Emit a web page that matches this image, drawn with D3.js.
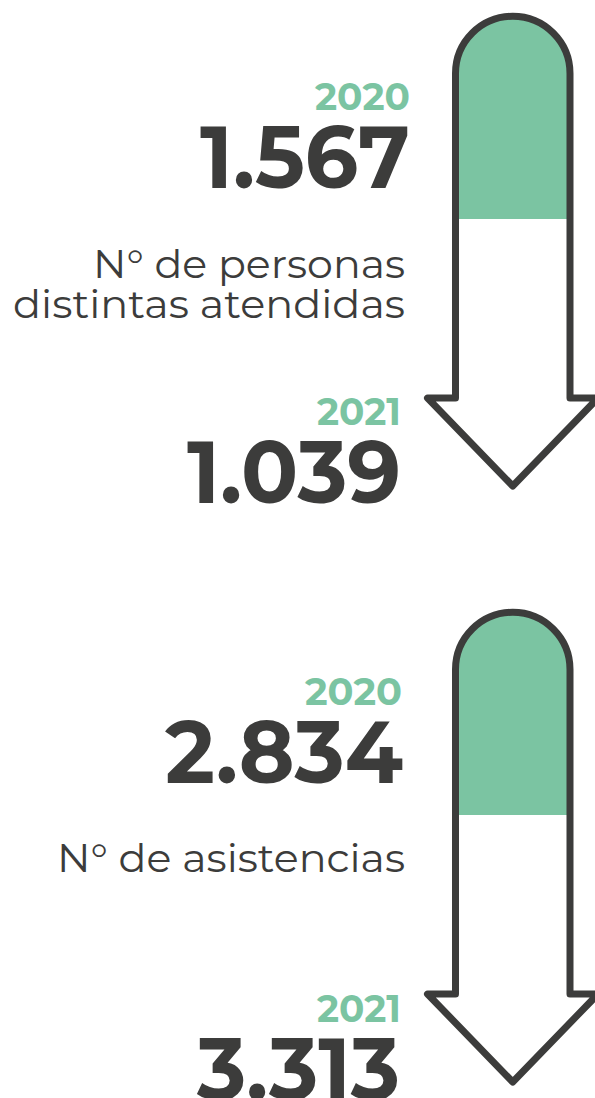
<!DOCTYPE html>
<html>
<head>
<meta charset="utf-8">
<script src="https://cdn.jsdelivr.net/npm/d3@7"></script>
<style>
  html, body { margin: 0; padding: 0; background: #ffffff; }
  svg { display: block; }
</style>
</head>
<body>
<script>
// ---- data ----
const labels = [["N° de personas", "distintas atendidas"], ["N° de asistencias"]];
const years = ["2020", "2021"];
const values2020 = [1567, 2834];
const values2021 = [1039, 3313];

// ---- setup ----
const W = 595, H = 1098;
const DARK = "#3c3c3b", GREEN = "#7bc4a2";
const FONT = "'Montserrat', 'Open Sans', 'DejaVu Sans', sans-serif";
const fmt = d3.formatLocale({ decimal: ",", thousands: ".", grouping: [3], currency: ["", " €"] }).format(",d");

const svg = d3.select("body").append("svg").attr("width", W).attr("height", H);

// vertical placement of each block
const blockY = d3.scaleOrdinal().domain(d3.range(labels.length)).range([0, 596]);

// arrow geometry (local coordinates)
const A = { x0: 455.5, x1: 570, yTop: 16.3, yFill: 219, yShoulder: 398, xL: 427.5, xR: 598, yTip: 486 };

function outlinePath() {
  const p = d3.path();
  const r = (A.x1 - A.x0) / 2, cx = (A.x0 + A.x1) / 2;
  p.moveTo(A.x0, A.yShoulder);
  p.lineTo(A.x0, A.yTop + r);
  p.arc(cx, A.yTop + r, r, Math.PI, 2 * Math.PI);
  p.lineTo(A.x1, A.yShoulder);
  p.lineTo(A.xR, A.yShoulder);
  p.lineTo(cx, A.yTip);
  p.lineTo(A.xL, A.yShoulder);
  p.closePath();
  return p.toString();
}
function fillPath() {
  const p = d3.path();
  const r = (A.x1 - A.x0) / 2, cx = (A.x0 + A.x1) / 2;
  p.moveTo(A.x0, A.yFill);
  p.lineTo(A.x0, A.yTop + r);
  p.arc(cx, A.yTop + r, r, Math.PI, 2 * Math.PI);
  p.lineTo(A.x1, A.yFill);
  p.closePath();
  return p.toString();
}

// text layout per block: [right edge, baseline, width]
const layout = [
  { y20: [410, 110, 95], v20: [410, 188, 210], lab: [[405, 278, 312], [405, 318, 392]], y21: [401, 425, 84], v21: [401, 503, 214] },
  { y20: [402, 109, 97], v20: [403, 187, 238], lab: [[405, 276, 348]], y21: [401, 426, 84], v21: [400, 504, 203] }
];

function addText(g, str, spec, size, weight, color) {
  const [right, base, width] = spec;
  g.append("text")
    .attr("x", right - width)
    .attr("y", base)
    .attr("font-family", FONT)
    .attr("font-size", size)
    .attr("font-weight", weight)
    .attr("fill", color)
    .attr("textLength", width)
    .attr("lengthAdjust", "spacingAndGlyphs")
    .text(str);
}

labels.forEach((lab, i) => {
  const g = svg.append("g").attr("transform", `translate(0,${blockY(i)})`);
  // arrow
  g.append("path").attr("d", outlinePath()).attr("fill", "#ffffff");
  g.append("path").attr("d", fillPath()).attr("fill", GREEN);
  g.append("path").attr("d", outlinePath())
    .attr("fill", "none").attr("stroke", DARK).attr("stroke-width", 7)
    .attr("stroke-linejoin", "round");

  const L = layout[i];
  addText(g, years[0], L.y20, 39, 700, GREEN);
  addText(g, fmt(values2020[i]), L.v20, 88, 700, DARK);
  lab.forEach((line, j) => addText(g, line, L.lab[j], 40, 400, DARK));
  addText(g, years[1], L.y21, 38, 700, GREEN);
  addText(g, fmt(values2021[i]), L.v21, 88, 700, DARK);
});
</script>
</body>
</html>
